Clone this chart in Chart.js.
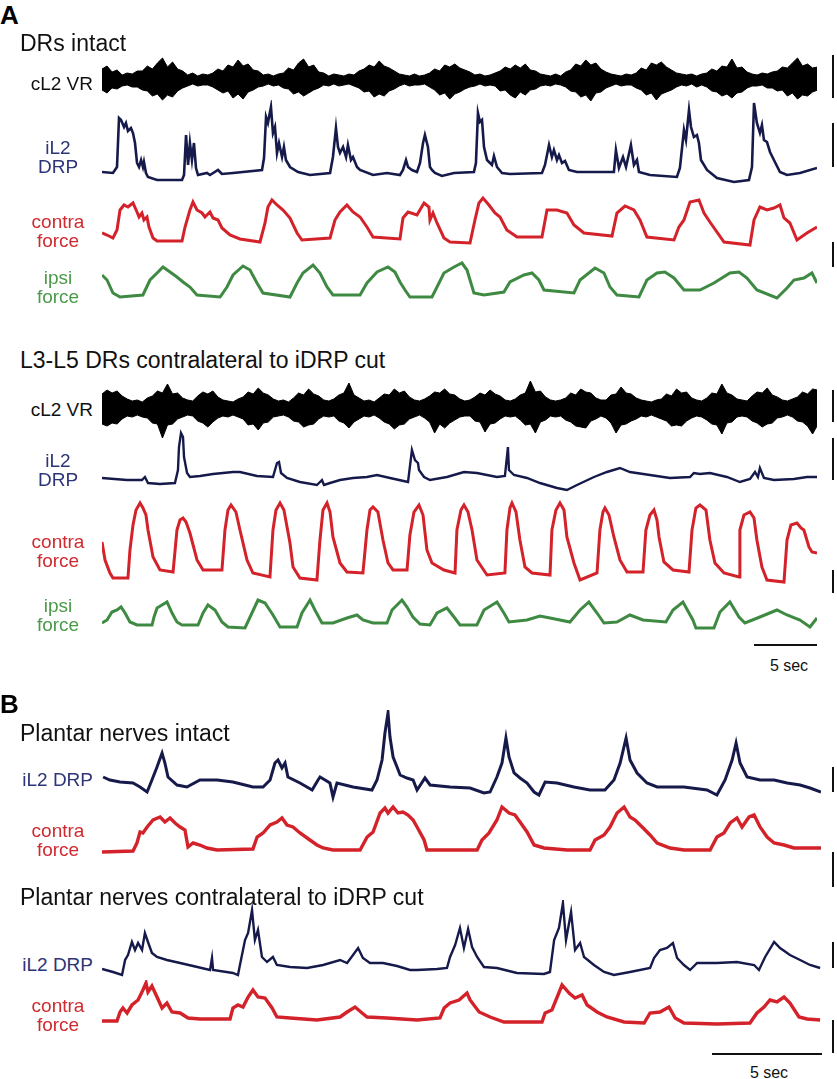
<!DOCTYPE html>
<html>
<head>
<meta charset="utf-8">
<script src="https://cdn.jsdelivr.net/npm/chart.js@4.4.0/dist/chart.umd.min.js"></script>
<style>
body { margin: 0; background: #fff; }
#fig { position: relative; width: 837px; height: 1079px; overflow: hidden; font-family: "Liberation Sans", Arial, sans-serif; }
.t { position: absolute; white-space: nowrap; }
.title { font-size: 23px; line-height: 23px; color: #111; }
.panel { font-size: 26px; line-height: 26px; font-weight: bold; color: #000; }
.lbl { font-size: 19px; line-height: 19px; }
.two { width: 100px; left: 8px; text-align: center; }
.one { width: 93px; left: 0; text-align: right; }
.bar { position: absolute; background: #111; }
.sec { font-size: 16px; line-height: 16px; color: #111; width: 60px; text-align: center; }
</style>
</head>
<body>
<div id="fig"></div>
<script>
// time spans of the two panels (s)
const spanA = 56.75;
const spanB = 32.68;
const vrStep = 0.4; // envelope sampling of the VR traces (s)

// ---------- Panel A, DRs intact ----------
// cL2 VR: upper / lower excursion of the raw signal per 0.4 s bin
const vrA1_hi = [11,14,8,10, 5,7,6,9, 9,14,11,17,22,13,18,11,9, 5,7,4,6,5,
  7,11,9,15,13,20,14,16,10,9,5, 6,4,6, 7,12,10,17,21,13,15,8,7, 4,6,5,4,6,5,
  9,11,15,13,19,14,12,9,6, 5,4,6,4,5, 7,11,9,15,13,16,12,10,8,5, 6,4,5,
  7,9,13,11,15,12,16,10,9,6,5, 4,6,4, 8,10,16,14,20,15,17,11,8,6, 5,4,6,5,
  7,12,10,17,15,18,13,10,7,6, 5,6,4,6, 7,11,9,14,13,21,12,13,8,6, 5,7,6,8,
  9,13,12,17,22,14,16,12,13];
const vrA1_lo = [10,13,8,9, 6,5,7,7, 10,11,16,14,20,15,17,11,8, 6,4,6,5,5,
  7,10,13,11,18,14,19,12,10,7,6, 4,6,5, 8,9,14,12,16,13,10,8,5, 6,4,6,5,4,6,
  8,12,11,17,14,16,11,9,6, 4,6,5,5,4, 7,10,15,13,19,14,12,9,7,6, 4,6,5,
  6,11,10,15,18,12,15,10,9,6,5, 6,4,5, 7,11,12,17,15,21,13,12,8,6, 4,6,5,5,
  8,10,15,13,20,14,12,10,7,5, 6,4,7,5, 7,11,12,16,14,18,13,12,8,6, 6,5,8,8,
  11,10,16,13,19,15,16,12,10];

const drpA1_t = [0,0.87,1.19,1.35,1.51,1.75,1.9,2.06,2.3,2.46,2.62,2.78,2.94,3.1,3.25,3.33,3.49,3.65,4.37,
  6.35,6.51,6.67,6.83,6.98,7.14,7.3,7.46,7.62,8.33,8.57,9.21,9.52,10.4,
  12.7,12.86,13.02,13.17,13.41,13.57,13.73,13.89,14.05,14.29,14.44,14.6,14.92,15.56,16.51,
  18.1,18.33,18.57,18.73,18.89,19.13,19.37,19.52,19.76,19.92,20.24,20.48,21.51,22.62,
  23.65,23.89,24.13,24.29,24.6,25,25.24,25.48,25.63,25.87,26.03,26.19,26.43,26.98,27.94,
  29.52,29.68,29.84,30,30.16,30.32,30.56,30.95,31.11,31.35,31.75,32.38,
  34.92,35.16,35.48,35.71,35.87,36.11,36.27,36.51,36.75,37.06,37.7,
  40.63,40.79,41.03,41.35,41.59,41.98,42.22,42.46,42.62,43.49,
  45.63,45.87,46.19,46.35,46.59,46.75,46.98,47.22,47.38,47.54,48.02,48.81,50.16,
  51.35,51.59,51.75,51.98,52.22,52.38,52.54,52.78,53.02,53.33,53.81,54.37,55.4,56.75];
const drpA1_v = [10,9,15,64,62,55,59,51,54,49,39,19,15,22,15,20,9,5,2,
  2,7,47,17,39,22,39,14,7,9,7,12,8,9,
  12,24,65,59,75,49,55,29,39,25,35,22,15,10,7,
  9,25,54,35,29,35,25,37,22,25,15,12,7,9,
  7,12,22,15,12,10,19,39,47,35,15,12,9,6,9,
  10,19,69,60,62,35,22,17,26,15,9,8,
  9,17,37,25,32,22,27,19,21,12,10,
  10,32,14,25,15,37,17,22,10,7,
  5,14,52,42,72,55,45,47,39,22,12,4,0,
  2,15,79,59,49,57,42,40,30,22,10,7,9,14];

const contraA1_t = [0,0.4,0.87,1.19,1.43,1.75,2.06,2.46,2.78,2.94,3.17,3.33,3.57,3.73,4.05,4.37,
  6.35,6.59,6.98,7.22,7.54,7.94,8.17,8.57,8.81,9.21,9.52,10.16,10.95,
  12.54,12.94,13.17,13.49,13.89,14.37,14.92,15.48,15.87,
  18.1,18.49,18.89,19.44,19.92,20.48,21.03,21.51,
  23.65,23.89,24.29,25,25.56,25.95,26.03,26.27,26.59,27.14,27.62,
  29.21,29.6,29.92,30.24,30.71,31.19,31.59,32.13,32.94,
  34.92,35.32,36.11,36.9,37.46,38.25,
  40.48,40.87,41.51,42.22,42.7,43.25,
  45.4,45.79,46.19,46.67,47.38,47.78,48.25,49.37,
  51.43,51.75,52.22,52.78,53.33,53.81,54.13,54.6,55.16,55.95,56.75];
const contraA1_v = [12,10,7,15,35,40,38,42,33,28,32,25,28,18,7,4,
  4,18,35,43,35,32,28,33,27,25,17,10,6,
  3,22,38,45,40,35,27,12,5,
  7,25,33,40,33,28,18,8,
  6,27,33,30,42,38,25,32,22,7,3,
  2,25,42,47,40,32,28,15,8,
  8,35,35,32,20,12,
  9,32,39,35,25,8,
  5,18,25,43,45,32,23,3,
  0,25,38,35,37,40,27,22,5,12,18];

const ipsiA1_t = [0,0.4,0.87,1.43,3.25,3.81,4.37,4.84,5.4,5.95,6.43,6.98,7.54,
  9.37,9.92,10.4,11.19,11.75,12.3,12.78,
  14.92,15.48,15.95,16.75,17.3,17.86,18.33,
  20.48,21.03,21.83,22.7,23.25,23.65,24.05,24.44,
  26.19,26.59,27.14,27.94,28.57,28.97,29.52,30.32,
  31.9,32.38,33.49,34.13,34.68,35.08,
  37.46,37.94,39.13,39.84,40.32,40.87,
  42.62,43.25,44.05,44.68,45.4,46.19,
  47.46,48.57,49.84,50.56,51.19,51.98,
  53.57,54.37,54.92,55.71,56.35,56.75];
const ipsiA1_v = [25,20,7,3,5,20,27,33,28,23,18,13,5,
  3,13,25,34,30,17,7,
  3,17,27,35,27,13,5,
  5,17,28,33,28,18,10,3,
  3,13,27,33,37,30,7,5,
  8,18,25,27,20,10,
  7,20,32,27,13,5,
  3,20,27,28,22,10,
  10,17,27,28,22,10,
  2,12,20,22,27,17];

// ---------- Panel A, L3-L5 DRs contralateral to iDRP cut ----------
const vrA2_hi = [14,18,15,17,12, 9,7,8,6,10, 12,17,15,24,14,15,10, 8,7,
  12,16,14,17,11, 8,7,6,9, 11,16,14,20,15,13,9, 7,8,6, 10,15,13,19,14,12,8, 7,9,
  13,15,25,13,10, 7,8,6, 10,14,13,19,15,17,11,8, 7,9, 12,16,15,19,14,13,9, 7,8,
  11,15,13,18,14,12,8, 7,9, 13,15,27,16,17,11,8, 7,8, 10,15,13,19,16,15,10,8, 8,
  13,14,21,15,14,10,8, 7,6,8, 9,14,12,19,15,16,10,8, 7, 10,15,14,24,15,13,9,8, 7,
  12,16,15,20,13,11,8, 7,9, 11,16,14,19,18];
const vrA2_lo = [16,18,15,16,11, 8,9,7,9,10, 15,16,30,17,16,11,9, 7,8,
  13,15,19,14,10, 8,9,7,9, 11,17,16,22,15,14,9, 8,7,9, 13,14,19,17,16,11,8, 9,8,
  13,15,20,14,11, 8,9,7, 10,14,16,21,17,16,11,9, 7,10, 14,25,16,20,15,12,9, 8,8,
  13,14,24,16,15,11,8, 9,8, 12,17,16,25,14,12,8, 9,8, 12,14,18,19,20,13,11,8, 10,
  15,25,17,16,13,11,8, 9,7,9, 11,13,18,17,18,13,10,8, 9, 12,16,17,26,15,14,9,8, 9,
  13,15,19,16,15,10,9, 7,9, 13,14,18,26,17];

const drpA2_t = [0,1.98,3.17,3.41,3.65,4.6,5.79,6.03,6.11,6.27,6.43,6.51,6.75,6.98,7.78,8.81,
  10.4,10.95,12.3,13.57,13.89,14.05,14.21,14.68,15.71,17.06,17.46,17.62,18.1,18.89,19.92,
  21.03,21.83,22.86,24.29,24.6,24.84,25.08,25.16,25.56,26.03,27.38,28.73,29.76,31.35,
  31.98,32.22,32.3,32.7,33.73,34.76,36.11,36.9,37.7,39.05,40.08,41.11,41.9,43.49,45.08,
  46.67,46.98,47.46,48.25,49.6,50.63,51.43,51.83,52.06,52.22,52.54,53.33,54.92,55.95,56.75];
const drpA2_v = [12,10,10,13,7,6,7,20,43,57,53,33,17,13,14,16,
  18,18,14,13,27,28,17,12,8,5,10,5,7,10,12,
  13,15,12,8,40,30,27,20,13,10,13,18,17,13,
  14,43,20,15,12,7,2,0,5,13,18,22,18,15,12,
  13,17,16,17,13,8,11,18,13,22,12,10,11,13,13];

const contraA2_t = [0,0.24,0.63,0.87,2.06,2.22,2.46,2.7,3.02,3.25,3.49,3.65,4.05,4.6,
  5.64,5.95,6.19,6.43,6.67,6.98,7.54,8.02,9.52,9.76,10,10.24,10.63,10.95,11.51,11.98,
  13.33,13.57,13.81,14.13,14.44,14.92,15.16,15.71,17.06,17.3,17.54,17.86,18.1,18.33,18.89,19.44,
  20.71,21.03,21.27,21.51,21.9,22.3,22.7,23.1,24.21,24.44,24.76,25.16,25.48,25.79,26.19,27.14,
  28.02,28.17,28.49,28.73,29.05,29.37,29.76,30.56,31.98,32.14,32.38,32.54,32.86,33.17,33.57,34.13,
  35.56,35.71,36.03,36.35,36.67,36.9,37.46,37.94,39.29,39.52,39.76,39.92,40.24,40.63,41.11,41.67,
  42.94,43.17,43.49,43.81,44.05,44.21,44.6,45.32,46.59,46.83,47.14,47.46,47.94,48.25,48.65,49.37,
  50.56,50.63,50.95,51.43,51.75,51.98,52.38,52.78,54.13,54.37,54.68,55.16,55.48,55.71,56.11,56.35,56.75];
const contraA2_v = [43,25,12,7,7,35,60,75,82,77,70,55,28,15,
  13,55,65,67,63,52,25,15,15,55,75,80,73,55,25,12,
  8,55,75,82,75,42,18,7,5,45,75,82,73,48,22,13,
  12,55,75,78,73,45,22,15,15,50,73,80,70,35,22,15,
  12,55,75,80,73,55,25,10,12,55,77,82,73,45,18,12,
  10,55,75,82,75,48,22,5,12,55,73,77,70,48,25,13,
  13,55,70,75,65,48,23,15,13,55,77,80,75,45,22,12,
  8,55,70,73,67,45,18,5,3,45,60,62,57,55,38,33,32];

const ipsiA2_t = [0,0.4,0.79,1.19,1.51,1.83,2.22,2.78,3.97,4.13,4.37,4.76,5.16,5.56,5.95,6.35,
  7.62,8.02,8.41,8.97,9.52,10,11.35,11.9,12.38,12.94,13.57,14.13,15.48,15.87,16.51,16.9,17.46,
  18.33,19.44,20.24,20.71,21.51,22.62,23.02,23.81,24.21,24.68,25.24,26.03,26.59,27.38,27.94,28.41,
  29.76,30.32,31.35,31.9,32.3,33.73,34.76,35.56,37.14,37.94,38.65,39.29,39.84,40.87,41.9,42.94,
  44.76,45.32,46.11,46.9,47.14,48.57,49.05,49.84,50.56,51.03,52.22,53.57,54.37,55.4,56.19,56.75];
const ipsiA2_v = [9,12,20,22,25,19,10,7,7,15,24,27,30,19,10,7,
  7,19,27,22,10,5,4,19,32,29,17,5,5,19,32,22,9,
  9,14,17,12,9,9,22,32,25,15,8,7,19,24,15,7,
  7,22,30,19,10,12,16,14,10,22,30,19,9,10,17,12,
  10,22,30,12,4,4,20,30,15,9,15,22,17,12,5,14];

// ---------- Panel B, plantar nerves intact ----------
const drpB1_t = [0.05,0.36,0.82,1.41,1.73,2.05,2.27,2.5,2.73,2.86,3,3.41,3.86,4.45,5.23,5.95,
  6.86,7.32,7.64,7.86,8,8.18,8.32,8.45,9,9.55,9.82,9.91,10.14,10.36,10.5,10.68,11.41,
  12.27,12.5,12.73,12.86,13,13.09,13.23,13.41,13.55,13.86,14.14,14.32,14.68,14.91,15.82,16.73,
  17.36,17.64,17.95,18.18,18.36,18.5,18.73,19,19.32,19.64,19.86,20.14,20.68,21.45,22.18,
  22.86,23.27,23.55,23.82,24,24.32,24.77,25.23,26.45,27.5,27.95,28.32,28.64,28.82,29,
  29.32,29.91,30.55,31.14,31.73,32.18,32.68];
const drpB1_v = [23,20,18,17,13,8,20,33,47,37,23,15,13,20,20,18,
  13,13,20,37,40,32,37,23,17,10,20,23,20,17,3,17,13,
  10,20,40,67,87,63,43,33,25,22,20,10,22,15,13,12,
  7,8,23,37,62,43,27,22,17,8,5,18,17,13,10,
  10,20,37,62,40,27,17,13,13,10,5,20,40,57,37,
  23,20,20,17,15,12,8];

const contraB1_t = [0,1.41,1.59,1.73,1.86,2.05,2.32,2.64,2.86,3.09,3.32,3.55,3.77,3.91,4.14,4.45,4.77,5.23,
  6.86,7.05,7.32,7.64,7.95,8.18,8.41,8.68,9,9.45,9.77,10.05,10.5,
  11.73,12.05,12.32,12.64,12.86,13,13.23,13.45,13.68,13.91,14.14,14.32,14.64,14.77,15.23,
  17.05,17.27,17.59,17.95,18.18,18.5,18.77,19,19.32,19.64,20.09,21.14,
  22.18,22.41,22.82,23.09,23.41,23.73,24,24.23,24.55,24.91,25.23,25.82,26.45,
  27.64,27.95,28.27,28.55,28.86,29.09,29.41,29.64,29.91,30.23,30.55,31,31.45,32.68];
const contraB1_v = [4,5,13,24,23,29,36,39,34,38,33,29,26,9,13,11,8,6,
  7,19,23,31,34,38,31,29,23,16,11,8,6,
  6,19,24,43,48,43,49,43,44,41,36,29,16,6,6,
  6,16,23,36,49,43,41,34,24,11,8,6,
  6,16,21,29,43,49,39,36,29,21,13,8,6,
  6,19,23,33,38,29,39,41,29,19,13,11,8,8];

// ---------- Panel B, plantar nerves contralateral to iDRP cut ----------
const drpB2_t = [0,0.5,0.91,1.05,1.18,1.36,1.5,1.64,1.82,1.95,2.09,2.27,2.5,2.95,3.55,4.14,4.91,5,5.05,
  5.95,6.18,6.27,6.5,6.64,6.82,6.95,7.09,7.27,7.5,7.77,7.95,8.55,9.32,10.05,10.82,11.14,11.41,11.64,11.86,
  12.18,12.77,13.41,14,14.32,15.23,15.68,15.82,16.05,16.27,16.45,16.64,16.82,17.05,17.36,17.95,18.86,
  20.09,20.36,20.55,20.77,20.95,21.09,21.32,21.5,21.73,21.91,22.36,22.82,23.27,24,24.91,25.09,25.36,
  25.68,25.95,26.14,26.45,26.73,27.05,27.95,28.86,29.64,29.86,30.14,30.55,30.82,31.27,31.73,32.18,32.64];
const drpB2_v = [11,8,5,20,25,38,30,37,30,47,38,27,23,20,17,14,10,22,10,
  7,5,15,40,47,70,40,50,23,18,23,15,13,12,15,20,17,25,32,22,
  17,17,14,10,10,11,12,23,35,52,32,51,33,23,13,12,7,
  6,8,40,52,77,40,68,30,37,23,15,8,5,8,12,22,30,
  32,37,22,15,10,17,17,18,15,10,23,38,32,25,20,15,12];

const contraB2_t = [0,0.68,0.82,0.95,1.14,1.36,1.64,1.86,2,2.09,2.27,2.5,2.73,2.95,3.18,3.55,3.91,4.45,
  5.82,5.95,6.18,6.41,6.64,6.86,7.09,7.41,7.73,7.95,8.55,9.77,10.82,11.14,11.5,11.82,12.05,12.95,
  14.32,15.36,15.55,15.82,16.23,16.59,16.73,17.14,17.64,18.27,20,20.14,20.45,20.91,21.23,21.5,21.82,
  22.05,22.5,22.95,23.73,24.64,24.91,25.36,25.77,26.05,26.45,27.95,29.45,29.77,30.09,30.36,30.68,
  31,31.27,31.68,32.05,32.64];
const contraB2_v = [5,5,14,18,13,21,26,36,43,34,40,29,18,23,14,13,8,7,
  7,18,21,19,29,36,29,28,18,9,8,6,9,14,19,13,9,8,
  6,8,18,23,26,33,26,14,9,4,4,13,16,41,33,28,31,
  21,14,9,4,3,13,14,19,8,3,2,3,13,19,26,24,
  29,23,9,7,6];

// ---------- drawing ----------
const fig = document.getElementById('fig');
const navy = '#161a4a', red = '#d4222a', green = '#3f8a42';

function pts(t, v) {
  return t.map((x, i) => ({ x: x, y: v[i] }));
}

function addChart(left, top, w, h, xmax, ymin, ymax, datasets) {
  const c = document.createElement('canvas');
  c.width = w; c.height = h;
  c.style.cssText = 'position:absolute;left:' + left + 'px;top:' + top + 'px;width:' + w + 'px;height:' + h + 'px';
  fig.appendChild(c);
  new Chart(c, {
    type: 'line',
    data: { datasets: datasets },
    options: {
      responsive: false,
      animation: false,
      events: [],
      layout: { padding: 0 },
      plugins: { legend: { display: false }, tooltip: { enabled: false } },
      elements: { point: { radius: 0 }, line: { tension: 0 } },
      scales: {
        x: { type: 'linear', display: false, min: 0, max: xmax },
        y: { display: false, min: ymin, max: ymax }
      }
    }
  });
}

function line(t, v, color, width) {
  return { data: pts(t, v), borderColor: color, borderWidth: width, fill: false };
}

// raw VR drawn as a filled band between the upper and lower excursions
function envelope(hi, lo) {
  const t = hi.map((_, i) => i * vrStep);
  return [
    { data: pts(t, hi), borderColor: '#000', borderWidth: 1, backgroundColor: '#000', fill: '+1' },
    { data: pts(t, lo.map(d => -d)), borderColor: '#000', borderWidth: 1, fill: false }
  ];
}

// panel A top
addChart(102, 55, 715, 50, spanA, -25, 25, envelope(vrA1_hi, vrA1_lo));
addChart(102, 100, 715, 86, spanA, -4, 82, [line(drpA1_t, drpA1_v, navy, 2.6)]);
addChart(102, 195, 715, 54, spanA, -4, 50, [line(contraA1_t, contraA1_v, red, 3)]);
addChart(102, 260, 715, 44, spanA, -4, 40, [line(ipsiA1_t, ipsiA1_v, green, 3)]);
// panel A bottom
addChart(102, 378, 715, 60, spanA, -30, 30, envelope(vrA2_hi, vrA2_lo));
addChart(102, 428, 715, 66, spanA, -4, 62, [line(drpA2_t, drpA2_v, navy, 2.4)]);
addChart(102, 499, 715, 90, spanA, -4, 86, [line(contraA2_t, contraA2_v, red, 3)]);
addChart(102, 596, 715, 40, spanA, -4, 36, [line(ipsiA2_t, ipsiA2_v, green, 3)]);
// panel B
addChart(102, 710, 719, 94, spanB, -4, 90, [line(drpB1_t, drpB1_v, navy, 3)]);
addChart(102, 802, 719, 58, spanB, -4, 54, [line(contraB1_t, contraB1_v, red, 3.4)]);
addChart(102, 900, 719, 84, spanB, -4, 80, [line(drpB2_t, drpB2_v, navy, 2.4)]);
addChart(102, 980, 719, 50, spanB, -4, 46, [line(contraB2_t, contraB2_v, red, 3.4)]);

// text
function text(html, cls, left, top, color) {
  const d = document.createElement('div');
  d.className = 't ' + cls;
  d.innerHTML = html;
  if (left !== null) d.style.left = left + 'px';
  d.style.top = top + 'px';
  if (color) d.style.color = color;
  fig.appendChild(d);
}
const cNavy = '#2d3477', cRed = '#cf2a30', cGreen = '#4a9a4a', cBlack = '#111';

text('A', 'panel', 0, 2);
text('DRs intact', 'title', 20, 32);
text('cL2 VR', 'lbl one', null, 74, cBlack);
text('iL2<br>DRP', 'lbl two', null, 138, cNavy);
text('contra<br>force', 'lbl two', null, 212, cRed);
text('ipsi<br>force', 'lbl two', null, 268, cGreen);

text('L3-L5 DRs contralateral to iDRP cut', 'title', 20, 349);
text('cL2 VR', 'lbl one', null, 400, cBlack);
text('iL2<br>DRP', 'lbl two', null, 451, cNavy);
text('contra<br>force', 'lbl two', null, 532, cRed);
text('ipsi<br>force', 'lbl two', null, 596, cGreen);
text('5 sec', 'sec', 759, 658);

text('B', 'panel', 0, 691);
text('Plantar nerves intact', 'title', 20, 722);
text('iL2 DRP', 'lbl one', null, 770, cNavy);
text('contra<br>force', 'lbl two', null, 821, cRed);
text('Plantar nerves contralateral to iDRP cut', 'title', 20, 886);
text('iL2 DRP', 'lbl one', null, 955, cNavy);
text('contra<br>force', 'lbl two', null, 996, cRed);
text('5 sec', 'sec', 739, 1065);

// scale bars
function bar(left, top, w, h) {
  const d = document.createElement('div');
  d.className = 'bar';
  d.style.cssText = 'left:' + left + 'px;top:' + top + 'px;width:' + w + 'px;height:' + h + 'px';
  fig.appendChild(d);
}
bar(832, 55, 2, 43);
bar(832, 123, 2, 44);
bar(832, 242, 2, 25);
bar(832, 390, 2, 32);
bar(832, 438, 2, 42);
bar(832, 570, 2, 23);
bar(754, 644, 63, 2);
bar(832, 767, 2, 25);
bar(832, 852, 2, 35);
bar(832, 942, 2, 26);
bar(832, 1020, 2, 33);
bar(712, 1053, 110, 2);
</script>
</body>
</html>
